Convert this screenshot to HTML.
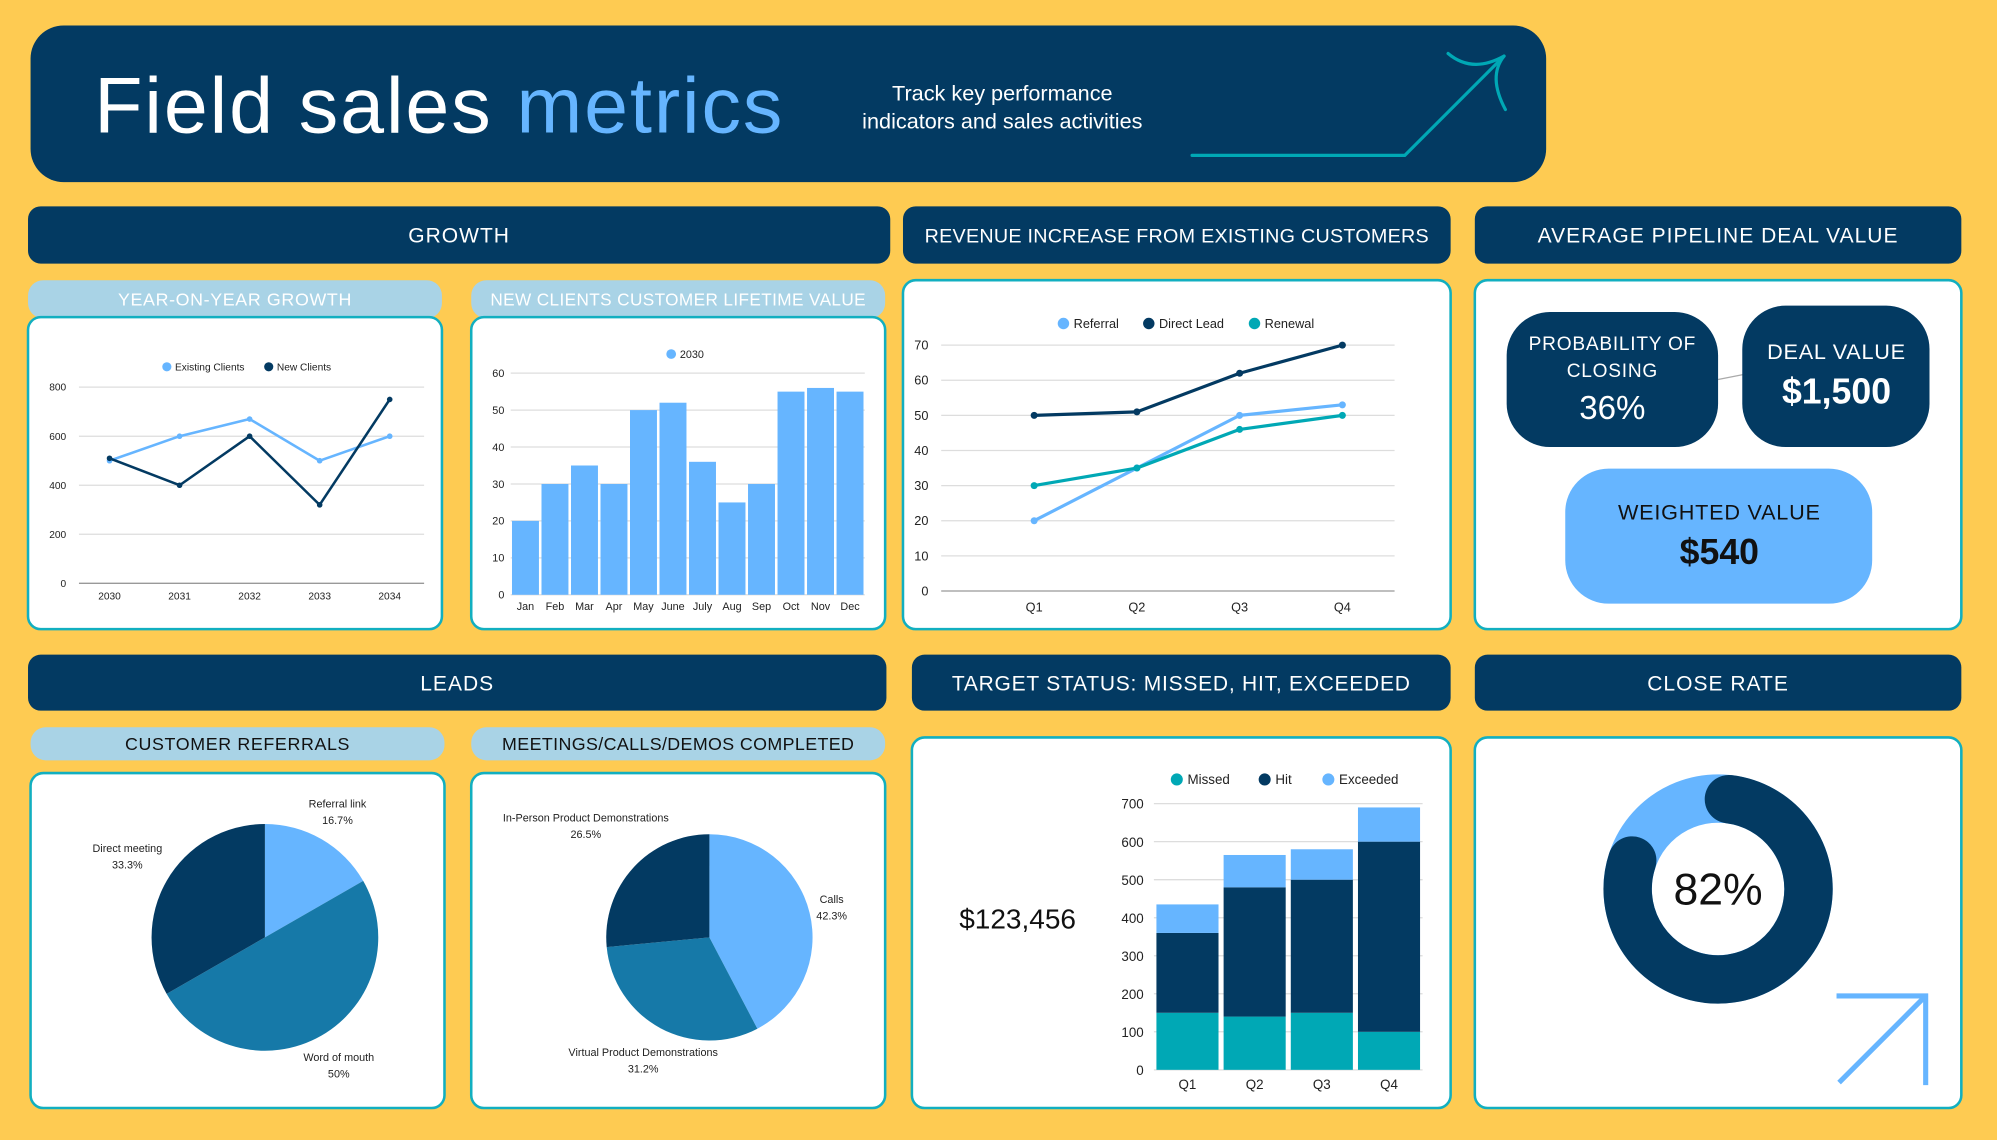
<!DOCTYPE html>
<html><head><meta charset="utf-8"><style>
html,body{margin:0;padding:0;background:#FECB52;}
svg{display:block;font-family:"Liberation Sans",sans-serif;}
</style></head><body>
<svg id="root" width="1997" height="1140" viewBox="0 0 1568 895.1" preserveAspectRatio="none" xmlns="http://www.w3.org/2000/svg">
<rect x="0" y="0" width="1568" height="896" fill="#FECB52"/>
<g>
<rect x="24" y="20" width="1190" height="123" rx="26" fill="#033A62"/>
<text x="74" y="104" font-size="62" fill="#fff" font-weight="500" letter-spacing="1.5">Field sales <tspan fill="#66B5FF">metrics</tspan></text>
<text x="787" y="79" font-size="17" fill="#fff" text-anchor="middle">Track key performance</text>
<text x="787" y="101" font-size="17" fill="#fff" text-anchor="middle">indicators and sales activities</text>
<g fill="none" stroke="#00A8B5" stroke-width="2.5" stroke-linecap="round">
<path d="M936 122 L1103 122 L1181 44"/>
<path d="M1137 42 Q1156 58 1181 44 Q1168 60 1182 86"/>
</g>
</g>
<g id="frames"></g>
<g id="charts"></g>
</svg>
<script>
// ---------- data ----------
const yoyYears = ['2030','2031','2032','2033','2034'];
const yoyExisting = [500,600,670,500,600];
const yoyNew = [510,400,600,320,750];
const yoyTicks = [0,200,400,600,800];

const cltvMonths = ['Jan','Feb','Mar','Apr','May','June','July','Aug','Sep','Oct','Nov','Dec'];
const cltvValues = [20,30,35,30,50,52,36,25,30,55,56,55];
const cltvTicks = [0,10,20,30,40,50,60];

const revQuarters = ['Q1','Q2','Q3','Q4'];
const revReferral = [20,35,50,53];
const revDirect = [50,51,62,70];
const revRenewal = [30,35,46,50];
const revTicks = [0,10,20,30,40,50,60,70];

const tgtQuarters = ['Q1','Q2','Q3','Q4'];
const tgtMissed = [150,140,150,100];
const tgtHit = [210,340,350,500];
const tgtExceeded = [75,85,80,90];
const tgtTicks = [0,100,200,300,400,500,600,700];

const refLabels = ['Referral link','Word of mouth','Direct meeting'];
const refValues = [16.7,50,33.3];
const refPct = ['16.7%','50%','33.3%'];

const mtgLabels = ['Calls','Virtual Product Demonstrations','In-Person Product Demonstrations'];
const mtgValues = [42.3,31.2,26.5];
const mtgPct = ['42.3%','31.2%','26.5%'];

const closeRate = [82];

// ---------- helpers ----------
const NS='http://www.w3.org/2000/svg';
function mk(parent,tag,attrs,text){const e=document.createElementNS(NS,tag);for(const k in attrs)e.setAttribute(k,attrs[k]);if(text!==undefined)e.textContent=text;parent.appendChild(e);return e;}
const frames=document.getElementById('frames');
const charts=document.getElementById('charts');
const NAVY='#033A62',LB='#66B5FF',TEAL='#00A8B5',MID='#1679A8';

// section headers
[['GROWTH',22,162,677,45,16.5,0.8],['REVENUE INCREASE FROM EXISTING CUSTOMERS',709,162,430,45,15.5,0.2],['AVERAGE PIPELINE DEAL VALUE',1158,162,382,45,16.5,0.8],
 ['LEADS',22,514,674,44,16.5,0.8],['TARGET STATUS: MISSED, HIT, EXCEEDED',716,514,423,44,16.5,0.6],['CLOSE RATE',1158,514,382,44,16.5,0.8]].forEach(h=>{
  const g=mk(frames,'g',{});
  
  
  mk(g,'rect',{x:h[1],y:h[2],width:h[3],height:h[4],rx:10,fill:NAVY});
  mk(g,'text',{x:h[1]+h[3]/2,y:h[2]+h[4]/2+6,'font-size':h[5],fill:'#fff','text-anchor':'middle','letter-spacing':h[6]},h[0]);
});
// sub headers
[['YEAR-ON-YEAR GROWTH',22,220,325,30,'#fff',14,0.5],['NEW CLIENTS CUSTOMER LIFETIME VALUE',370,220,325,30,'#fff',13.5,0.3],
 ['CUSTOMER REFERRALS',24,571,325,26,'#111',14,0.5],['MEETINGS/CALLS/DEMOS COMPLETED',370,571,325,26,'#111',14,0.3]].forEach(h=>{
  const g=mk(frames,'g',{});
  
  
  mk(g,'rect',{x:h[1],y:h[2],width:h[3],height:h[4],rx:12,fill:'#A9D3E6'});
  mk(g,'text',{x:h[1]+h[3]/2,y:h[2]+h[4]/2+5,'font-size':h[6],fill:h[5],'text-anchor':'middle','letter-spacing':h[7]},h[0]);
});
// cards
[[22,249,325,245],[370,249,325,245],[709,220,430,274],[1158,220,382,274],[24,607,325,263],[370,607,325,263],[716,579,423,291],[1158,579,382,291]].forEach(c=>{
  const r=mk(frames,'rect',{x:c[0],y:c[1],width:c[2],height:c[3],rx:10,fill:'#fff',stroke:'#12AFC0','stroke-width':2});
  
  
});

function legend(g,items,y,fs){items.forEach(it=>{
  const c=mk(g,'circle',{cx:it[1],cy:y,r:fs*0.45,fill:it[2]});
  
  
  const t=mk(g,'text',{x:it[1]+fs*0.8,y:y+fs*0.35,'font-size':fs,fill:'#222'},it[0]);
  
  
});}

function lineChart(name,cats,series,ticks,x0,x1,xa,xb,y0,y1,tmax,fs,lw){
  const g=mk(charts,'g',{});
  
  
  const ys=v=>y0-(v/tmax)*(y0-y1);
  const xs=i=>xa+i*(xb-xa)/(cats.length-1);
  ticks.forEach(t=>{
    mk(g,'line',{x1:x0,x2:x1,y1:ys(t),y2:ys(t),stroke:t===0?'#999':'#ddd','stroke-width':1});
    const tl=mk(g,'text',{x:x0-10,y:ys(t)+fs*0.35,'font-size':fs,'text-anchor':'end',fill:'#222'},t);
    
    
  });
  cats.forEach((c,i)=>{
    const tl=mk(g,'text',{x:xs(i),y:y0+fs*1.6,'font-size':fs,'text-anchor':'middle',fill:'#222'},c);
    
    
  });
  series.forEach(s=>{
    const p=mk(g,'polyline',{points:s.v.map((v,i)=>xs(i)+','+ys(v)).join(' '),fill:'none',stroke:s.c,'stroke-width':lw,'stroke-linejoin':'round'});
    
    
    s.v.forEach((v,i)=>{
      const pt=mk(g,'circle',{cx:xs(i),cy:ys(v),r:lw*1.1,fill:s.c});
      
      
    });
  });
  return g;
}

// YoY
const gy=lineChart('yoy-growth-chart',yoyYears,[{n:'existing-clients',v:yoyExisting,c:LB},{n:'new-clients',v:yoyNew,c:NAVY}],yoyTicks,62,333,86,306,458,304,800,8,2);
legend(gy,[['Existing Clients',131,LB],['New Clients',211,NAVY]],288,8);

// CLTV bars
(function(){
  const g=mk(charts,'g',{});
  
  
  const y0=467,y1=293,x0=401,x1=679,tmax=60,fs=8.5;
  const ys=v=>y0-(v/tmax)*(y0-y1);
  cltvTicks.forEach(t=>{
    mk(g,'line',{x1:x0,x2:x1,y1:ys(t),y2:ys(t),stroke:'#ddd','stroke-width':1});
    const tl=mk(g,'text',{x:x0-5,y:ys(t)+3,'font-size':fs,'text-anchor':'end',fill:'#222'},t);
    
    
  });
  const step=(x1-x0)/cltvMonths.length;
  cltvMonths.forEach((m,i)=>{
    const b=mk(g,'rect',{x:x0+i*step+1,y:ys(cltvValues[i]),width:step-2,height:y0-ys(cltvValues[i]),fill:LB});
    
    
    const tl=mk(g,'text',{x:x0+i*step+step/2,y:y0+12,'font-size':fs,'text-anchor':'middle',fill:'#222'},m);
    
    
  });
  legend(g,[['2030',527,LB]],278,8.5);
})();

// Revenue
const gr=lineChart('revenue-line-chart',revQuarters,[{n:'referral',v:revReferral,c:LB},{n:'direct-lead',v:revDirect,c:NAVY},{n:'renewal',v:revRenewal,c:TEAL}],revTicks,739,1095,812,1054,464,271,70,10,2.5);
legend(gr,[['Referral',835,LB],['Direct Lead',902,NAVY],['Renewal',985,TEAL]],254,10);

// Pipeline KPI
(function(){
  const g=mk(charts,'g',{});
  
  
  mk(g,'line',{x1:1349,y1:298,x2:1369,y2:294,stroke:'#aaa','stroke-width':1});
  mk(g,'rect',{x:1183,y:245,width:166,height:106,rx:34,fill:NAVY});
  mk(g,'text',{x:1266,y:275,'font-size':15,fill:'#fff','text-anchor':'middle','letter-spacing':'0.6'},'PROBABILITY OF');
  mk(g,'text',{x:1266,y:296,'font-size':15,fill:'#fff','text-anchor':'middle','letter-spacing':'0.6'},'CLOSING');
  mk(g,'text',{x:1266,y:329,'font-size':26,fill:'#fff','text-anchor':'middle'},'36%');
  mk(g,'rect',{x:1368,y:240,width:147,height:111,rx:34,fill:NAVY});
  mk(g,'text',{x:1442,y:282,'font-size':17,fill:'#fff','text-anchor':'middle','letter-spacing':'0.6'},'DEAL VALUE');
  mk(g,'text',{x:1442,y:317,'font-size':28,fill:'#fff','text-anchor':'middle','font-weight':'bold'},'$1,500');
  mk(g,'rect',{x:1229,y:368,width:241,height:106,rx:34,fill:LB});
  mk(g,'text',{x:1350,y:408,'font-size':17,fill:'#111','text-anchor':'middle','letter-spacing':'0.6'},'WEIGHTED VALUE');
  mk(g,'text',{x:1350,y:443,'font-size':28,fill:'#111','text-anchor':'middle','font-weight':'bold'},'$540');
})();

// Pies
function pie(name,labels,values,pcts,cx,cy,r,colors,labelPos){
  const g=mk(charts,'g',{});
  
  
  const tot=values.reduce((a,b)=>a+b,0);let a0=-Math.PI/2;
  values.forEach((v,i)=>{
    const a1=a0+v/tot*Math.PI*2;
    const large=(a1-a0)>Math.PI?1:0;
    const p=mk(g,'path',{d:`M${cx},${cy} L${cx+r*Math.cos(a0)},${cy+r*Math.sin(a0)} A${r},${r} 0 ${large} 1 ${cx+r*Math.cos(a1)},${cy+r*Math.sin(a1)} Z`,fill:colors[i]});
    
    
    const lp=labelPos[i];
    const t1=mk(g,'text',{x:lp[0],y:lp[1],'font-size':8.5,'text-anchor':'middle',fill:'#222'},labels[i]);
    
    
    const t2=mk(g,'text',{x:lp[0],y:lp[1]+13,'font-size':8.5,'text-anchor':'middle',fill:'#222'},pcts[i]);
    
    
    a0=a1;
  });
}
pie('customer-referrals-pie',refLabels,refValues,refPct,208,736,89,[LB,MID,NAVY],[[265,634],[266,833],[100,669]]);
pie('meetings-pie',mtgLabels,mtgValues,mtgPct,557,736,81,[LB,MID,NAVY],[[653,709],[505,829],[460,645]]);

// Target stacked bars
(function(){
  const g=mk(charts,'g',{});
  
  
  const t=mk(g,'text',{x:799,y:729,'font-size':22,'text-anchor':'middle',fill:'#111'},'$123,456');
  
  
  const y0=840,y1=631,x0=906,x1=1117,tmax=700,fs=10.5;
  const ys=v=>y0-(v/tmax)*(y0-y1);
  tgtTicks.forEach(tk=>{
    mk(g,'line',{x1:x0,x2:x1,y1:ys(tk),y2:ys(tk),stroke:'#ddd','stroke-width':1});
    const tl=mk(g,'text',{x:x0-8,y:ys(tk)+4,'font-size':fs,'text-anchor':'end',fill:'#222'},tk);
    
    
  });
  const step=(x1-x0)/tgtQuarters.length,bw=step-4;
  tgtQuarters.forEach((q,i)=>{
    const bx=x0+i*step+2;let base=0;
    [[tgtMissed[i],TEAL,'missed'],[tgtHit[i],NAVY,'hit'],[tgtExceeded[i],LB,'exceeded']].forEach(s=>{
      const r=mk(g,'rect',{x:bx,y:ys(base+s[0]),width:bw,height:ys(base)-ys(base+s[0]),fill:s[1]});
      
      
      base+=s[0];
    });
    const tl=mk(g,'text',{x:bx+bw/2,y:y0+15,'font-size':fs,'text-anchor':'middle',fill:'#222'},q);
    
    
  });
  legend(g,[['Missed',924,TEAL],['Hit',993,NAVY],['Exceeded',1043,LB]],612,10.5);
})();

// Close rate donut
(function(){
  const g=mk(charts,'g',{});
  
  
  const cx=1349,cy=698,r=71,sw=38;
  mk(g,'circle',{cx,cy,r,fill:'none',stroke:LB,'stroke-width':sw});
  const a0=-Math.PI/2+0.12,a1=a0+closeRate[0]/100*Math.PI*2-0.24;
  const large=(a1-a0)>Math.PI?1:0;
  const arc=mk(g,'path',{d:`M${cx+r*Math.cos(a0)},${cy+r*Math.sin(a0)} A${r},${r} 0 ${large} 1 ${cx+r*Math.cos(a1)},${cy+r*Math.sin(a1)}`,fill:'none',stroke:NAVY,'stroke-width':sw,'stroke-linecap':'round'});
  
  
  const t=mk(g,'text',{x:cx,y:cy+12,'font-size':35,'text-anchor':'middle',fill:'#111'},closeRate[0]+'%');
  
  
  const ar=mk(g,'path',{d:'M1444 850 L1512 782 M1442 782 L1512 782 L1512 852',fill:'none',stroke:LB,'stroke-width':4});
  
  
})();
</script>
</body></html>
